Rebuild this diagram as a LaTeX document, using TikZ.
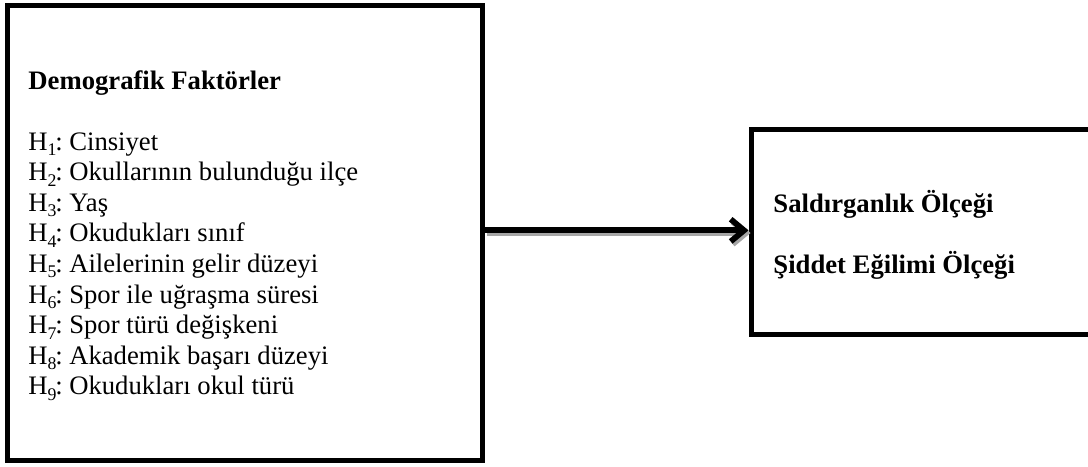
\documentclass[tikz,border=0pt]{standalone}
\usepackage{fontspec}
\setmainfont{Liberation Serif}
\usetikzlibrary{arrows.meta}
\newcommand{\subnum}[1]{\raisebox{-0.45ex}{\fontsize{8}{8}\selectfont #1}\kern-0.6pt}
\tikzset{
  frame/.style={draw=black, line width=2.25pt, inner sep=0pt},
  itemtext/.style={anchor=base west, inner sep=0pt, font=\fontsize{12}{13.8}\selectfont},
  headtext/.style={itemtext, font=\fontsize{12}{13.8}\selectfont\bfseries},
}
\begin{document}
\begin{tikzpicture}[x=0.45pt,y=-0.45pt]
    \useasboundingbox (0,0) rectangle (1088,466);

    % left box with the factors
    \node[frame, minimum width=213.3pt, minimum height=204.75pt] (demo) at (245,233) {};
    \node[headtext] (demohead) at (28,89) {Demografik Faktörler};
    \foreach \txt [count=\i] in {Cinsiyet, Okullarının bulunduğu ilçe, Yaş, Okudukları sınıf,
        Ailelerinin gelir düzeyi, Spor ile uğraşma süresi, Spor türü değişkeni,
        Akademik başarı düzeyi, Okudukları okul türü}
        \node[itemtext] (h\i) at (28,{150+30.6*(\i-1)}) {H\subnum{\i}:\ \txt};

    % right box with the scales
    \node[frame, minimum width=157pt, minimum height=92.25pt] (scales) at (925.5,232) {};
    \node[headtext] (sald) at (773,212) {Saldırganlık Ölçeği};
    \node[headtext] (sidd) at (773,273) {Şiddet Eğilimi Ölçeği};

    % arrow
    \coordinate (from) at ([yshift=1.2pt]demo.east);
    \coordinate (to) at (from -| scales.west);
    \draw[gray!70, line width=2.6pt, -{Straight Barb[length=6pt,width=10pt]}, transform canvas={xshift=0.9pt,yshift=-1.2pt}] (from) -- (to);
    \draw[black, line width=2.6pt, -{Straight Barb[length=6pt,width=10pt]}] (from) -- (to);
\end{tikzpicture}
\end{document}
